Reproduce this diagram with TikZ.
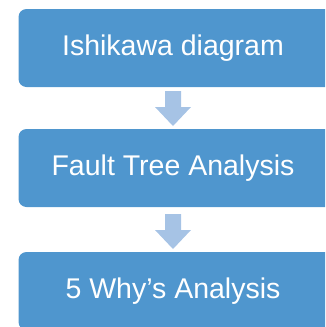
\documentclass[tikz,border=0pt]{standalone}
\usepackage{fontspec}
\setmainfont{Liberation Sans}
\definecolor{boxblue}{HTML}{4F96CE}
\definecolor{arrowblue}{HTML}{A6C3E5}
\begin{document}
\begin{tikzpicture}[x=1pt,y=-1pt,
  stepbox/.style={fill=boxblue, rounded corners=8pt, minimum width=322pt, minimum height=78pt,
    inner sep=0pt},
  steptext/.style={text=white, inner sep=0pt, font=\fontsize{28.5}{34}\selectfont},
  blockarrow/.style={fill=arrowblue}]
\useasboundingbox (0,0) rectangle (325,327);
\clip (0,0) rectangle (325,327);
\node[stepbox] (b1) at (179.5,48) {};
\node[stepbox] (b2) at (179.5,168) {};
\node[stepbox] (b3) at (179.5,291) {};
\node[steptext] (t1) at (173,48) {Ishikawa diagram};
\node[steptext] (t2) at (173,168) {Fault Tree Analysis};
\node[steptext] (t3) at (173,291) {5 Why’s Analysis};
\coordinate (a1) at (173,91);
\coordinate (a2) at (173,214);
\foreach \a in {a1,a2}{
  \fill[blockarrow] (\a) ++(-8,0) -- ++(16,0) -- ++(0,16) -- ++(10,0) -- ++(-18,19) -- ++(-18,-19) -- ++(10,0) -- cycle;
}
\end{tikzpicture}
\end{document}
